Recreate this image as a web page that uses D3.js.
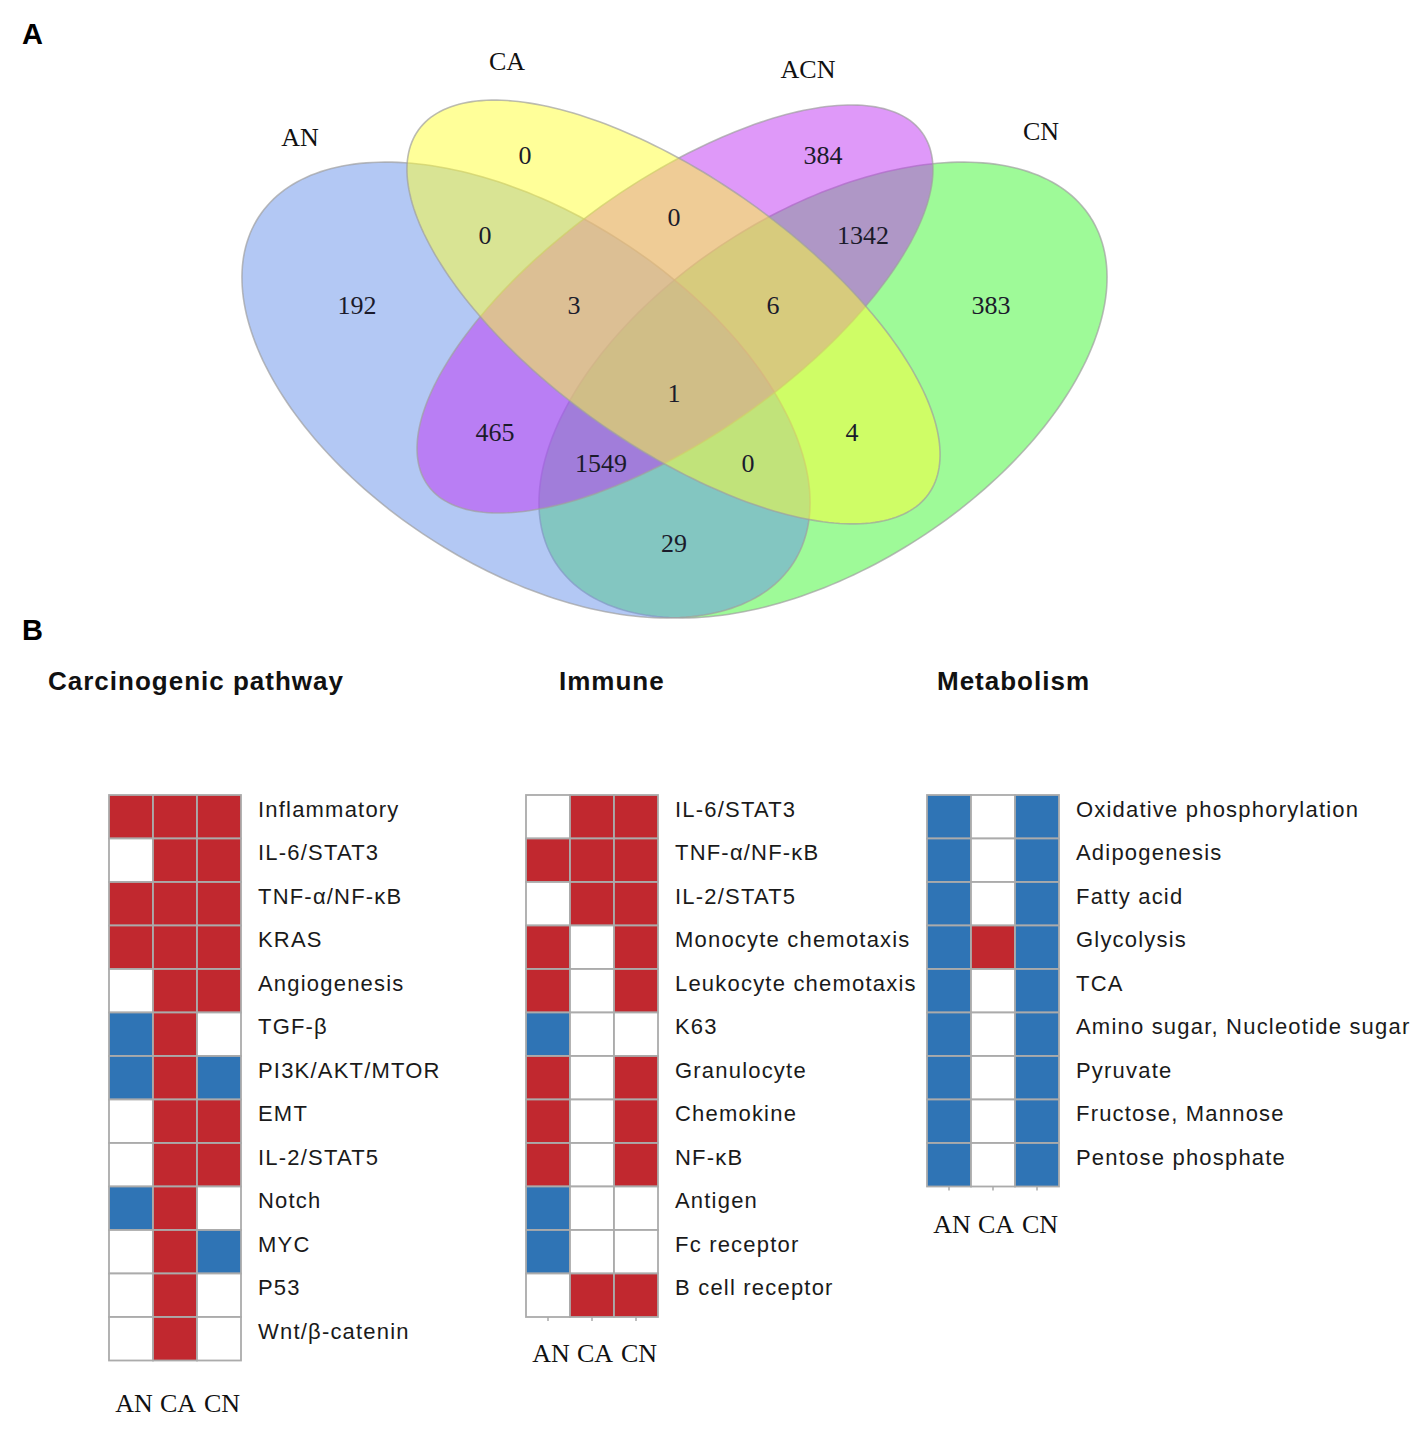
<!DOCTYPE html>
<html>
<head>
<meta charset="utf-8">
<script src="https://cdn.jsdelivr.net/npm/d3@7"></script>
<style>
  html, body { margin: 0; padding: 0; background: #fff; }
  svg { display: block; }
</style>
</head>
<body>
<svg id="chart" width="1418" height="1429"></svg>
<script>
// ---------------- DATA ----------------
// Panel A: Venn diagram
const vennSets = ["AN", "CA", "ACN", "CN"];
const vennRegions = [
  ["AN"], ["CA"], ["ACN"], ["CN"],
  ["AN","CA"], ["CA","ACN"], ["ACN","CN"],
  ["AN","CA","ACN"], ["CA","ACN","CN"], ["AN","CA","ACN","CN"],
  ["AN","ACN"], ["CA","CN"], ["AN","ACN","CN"], ["AN","CA","CN"], ["AN","CN"]
];
const vennCounts = [192, 0, 384, 383, 0, 0, 1342, 3, 6, 1, 465, 4, 1549, 0, 29];

// Panel B: heatmaps (1 = up / red, -1 = down / blue, 0 = none)
const groups = ["AN", "CA", "CN"];

const carcinoPathways = ["Inflammatory","IL-6/STAT3","TNF-α/NF-κB","KRAS","Angiogenesis","TGF-β",
  "PI3K/AKT/MTOR","EMT","IL-2/STAT5","Notch","MYC","P53","Wnt/β-catenin"];
const carcinoValues = [
  [1,1,1],[0,1,1],[1,1,1],[1,1,1],[0,1,1],[-1,1,0],
  [-1,1,-1],[0,1,1],[0,1,1],[-1,1,0],[0,1,-1],[0,1,0],[0,1,0]
];

const immunePathways = ["IL-6/STAT3","TNF-α/NF-κB","IL-2/STAT5","Monocyte chemotaxis","Leukocyte chemotaxis",
  "K63","Granulocyte","Chemokine","NF-κB","Antigen","Fc receptor","B cell receptor"];
const immuneValues = [
  [0,1,1],[1,1,1],[0,1,1],[1,0,1],[1,0,1],[-1,0,0],
  [1,0,1],[1,0,1],[1,0,1],[-1,0,0],[-1,0,0],[0,1,1]
];

const metabPathways = ["Oxidative phosphorylation","Adipogenesis","Fatty acid","Glycolysis","TCA",
  "Amino sugar, Nucleotide sugar","Pyruvate","Fructose, Mannose","Pentose phosphate"];
const metabValues = [
  [-1,0,-1],[-1,0,-1],[-1,0,-1],[-1,1,-1],[-1,0,-1],[-1,0,-1],[-1,0,-1],[-1,0,-1],[-1,0,-1]
];

// ---------------- LAYOUT ----------------
const svg = d3.select("#chart");
svg.append("rect").attr("width", 1418).attr("height", 1429).attr("fill", "#fff");

const serif = "'Liberation Serif', 'Times New Roman', Times, serif";
const sans = "'Liberation Sans', Arial, Helvetica, sans-serif";

// Venn coordinate system (units relative to Venn centre)
const xV = d3.scaleLinear().domain([-432.5, 432.5]).range([242, 1107]);
const yV = d3.scaleLinear().domain([-261, 262]).range([97, 620]);

const vennShapes = {
  AN:  {cx: -148.5, cy: 32,  rx: 318.4, ry: 176.8, angle: 32.9,   color: "#6791e9"},
  CA:  {cx: -1,     cy: -46, rx: 313.3, ry: 133.4, angle: 35.5,   color: "#ffff33"},
  ACN: {cx: 0.5,    cy: -49, rx: 303.6, ry: 126.5, angle: -35.45, color: "#bf33f3"},
  CN:  {cx: 148.5,  cy: 32,  rx: 318.4, ry: 176.8, angle: -32.9,  color: "#3df531"}
};
const drawOrder = ["CN", "AN", "ACN", "CA"];

const setLabelPos = {AN: [-374.5, -221], CA: [-167.5, -297], ACN: [133.5, -289], CN: [366.5, -227]};
const regionLabelPos = [
  [-317.5,-53], [-149.5,-203], [148.5,-203], [316.5,-53],
  [-189.5,-123], [-0.5,-141], [188.5,-123],
  [-100.5,-53], [98.5,-53], [-0.5,35],
  [-179.5,74], [177.5,74], [-73.5,105], [73.5,105], [-0.5,185]
];

function ellipsePts(e) {
  const a = e.angle * Math.PI / 180, ca = Math.cos(a), sa = Math.sin(a);
  return d3.range(0, 240).map(i => {
    const t = i / 240 * 2 * Math.PI;
    const ux = e.rx * Math.cos(t), uy = e.ry * Math.sin(t);
    return [e.cx + ux * ca - uy * sa, e.cy + ux * sa + uy * ca];
  });
}
const ellLine = d3.line().x(p => xV(p[0])).y(p => yV(p[1])).curve(d3.curveLinearClosed);

const venn = svg.append("g").attr("class", "venn");
venn.selectAll("path.set")
  .data(drawOrder.map(k => vennShapes[k]))
  .join("path")
  .attr("class", "set")
  .attr("d", d => ellLine(ellipsePts(d)))
  .attr("fill", d => d.color)
  .attr("fill-opacity", 0.5)
  .attr("stroke", "#a0a0a0")
  .attr("stroke-opacity", 0.7)
  .attr("stroke-width", 1.6);

venn.selectAll("text.setlabel")
  .data(vennSets)
  .join("text")
  .attr("class", "setlabel")
  .attr("x", d => xV(setLabelPos[d][0]))
  .attr("y", d => yV(setLabelPos[d][1]))
  .attr("dy", "0.35em")
  .attr("text-anchor", "middle")
  .attr("font-family", serif)
  .attr("font-size", 26)
  .attr("fill", "#111")
  .text(d => d);

venn.selectAll("text.count")
  .data(vennCounts.map((c, i) => ({c, i, sets: vennRegions[i]})))
  .join("text")
  .attr("class", "count")
  .attr("x", d => xV(regionLabelPos[d.i][0]))
  .attr("y", d => yV(regionLabelPos[d.i][1]))
  .attr("dy", "0.35em")
  .attr("text-anchor", "middle")
  .attr("font-family", serif)
  .attr("font-size", 26)
  .attr("fill", "#1b1b2b")
  .text(d => d.c);

// Panel letters
svg.append("text").attr("x", 22).attr("y", 44).attr("font-family", sans).attr("font-weight", "bold")
  .attr("font-size", 29).attr("fill", "#000").text("A");
svg.append("text").attr("x", 22).attr("y", 640).attr("font-family", sans).attr("font-weight", "bold")
  .attr("font-size", 29).attr("fill", "#000").text("B");

// ---------------- HEATMAPS ----------------
const colorOf = v => v > 0 ? "#c1282f" : (v < 0 ? "#2f74b5" : "#ffffff");
const cellH = 43.5, cellW = 44, gridTop = 795;

const panels = [
  {title: "Carcinogenic pathway", titleX: 48, x0: 109, rows: carcinoPathways, vals: carcinoValues, tick: 0, pad: 33},
  {title: "Immune", titleX: 559, x0: 526, rows: immunePathways, vals: immuneValues, tick: 4, pad: 23},
  {title: "Metabolism", titleX: 937, x0: 927, rows: metabPathways, vals: metabValues, tick: 4, pad: 24}
];

panels.forEach(p => {
  const g = svg.append("g");
  g.append("text").attr("x", p.titleX).attr("y", 690)
    .attr("font-family", sans).attr("font-weight", "bold").attr("font-size", 26)
    .attr("letter-spacing", 1).attr("fill", "#111").text(p.title);

  const x = d3.scaleBand().domain(groups).range([p.x0, p.x0 + cellW * groups.length]).padding(0);
  const y = d3.scaleBand().domain(p.rows).range([gridTop, gridTop + cellH * p.rows.length]).padding(0);

  const cells = [];
  p.rows.forEach((r, i) => groups.forEach((gname, j) => cells.push({r, g: gname, v: p.vals[i][j]})));

  g.selectAll("rect.cell").data(cells).join("rect")
    .attr("class", "cell")
    .attr("x", d => x(d.g)).attr("y", d => y(d.r))
    .attr("width", x.bandwidth()).attr("height", y.bandwidth())
    .attr("fill", d => colorOf(d.v))
    .attr("stroke", "#ababab").attr("stroke-width", 1.8);

  g.selectAll("text.rowlab").data(p.rows).join("text")
    .attr("class", "rowlab")
    .attr("x", p.x0 + cellW * groups.length + 17)
    .attr("y", d => y(d) + y.bandwidth() / 2 - 8)
    .attr("dy", "0.36em")
    .attr("font-family", sans).attr("font-size", 22).attr("letter-spacing", 1.2)
    .attr("fill", "#1a1a1a")
    .text(d => d);

  const axis = d3.axisBottom(x).tickSize(p.tick).tickPadding(p.pad);
  const ax = g.append("g").attr("transform", `translate(0,${gridTop + cellH * p.rows.length})`).call(axis);
  ax.select(".domain").remove();
  ax.selectAll(".tick line").attr("stroke", "#aaa").attr("stroke-width", 1.5);
  ax.selectAll(".tick text").attr("font-family", serif).attr("font-size", 26)
    .attr("dx", 3).attr("fill", "#111");
});
</script>
</body>
</html>
